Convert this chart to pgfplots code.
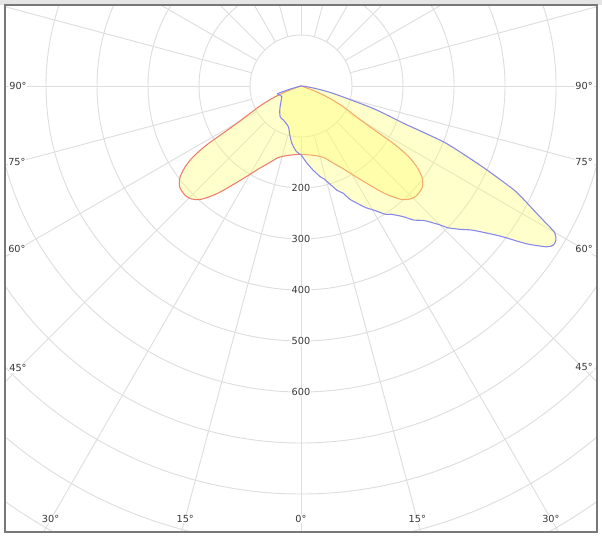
\documentclass[border=0pt]{standalone}
\usepackage{fontspec}
\setmainfont{DejaVu Sans}
\usepackage{pgfplots}
\pgfplotsset{compat=1.18}
\definecolor{gridc}{RGB}{222,222,222}
\definecolor{framec}{RGB}{120,120,120}
\definecolor{redc}{RGB}{238,125,105}
\definecolor{bluec}{RGB}{135,135,230}
\definecolor{fillc}{RGB}{255,255,110}
\definecolor{txt}{RGB}{55,55,55}
\tikzset{lbl/.style={font=\fontsize{7.3}{8.5}\selectfont, text=txt, fill=white, inner sep=0.6pt}}
\begin{document}
\begin{tikzpicture}
\useasboundingbox (-3.75pt,-5.25pt) rectangle (447.75pt,399pt);
\fill[black!10] (-3.75pt,395.25pt) rectangle (447.75pt,399pt);
\begin{axis}[at={(0pt,0pt)}, anchor=south west, scale only axis,
  x=0.3825pt, y=0.3825pt,
  xmin=-580.4, xmax=580.4, ymin=-874.5, ymax=158.8,
  xtick=\empty, ytick=\empty,
  axis line style={draw=framec, line width=1.1pt},
  clip=true, axis on top]
\pgfplotsinvokeforeach{100,200,300,400,500,600,700,800,900,1000}{
  \draw[gridc, line width=0.7pt] (axis cs:0,0) circle[radius=#1];}
\pgfplotsinvokeforeach{0,15,30,45,60,75,90,105,120,135,150,165,180,195,210,225,240,255,270,285,300,315,330,345}{
  \draw[gridc, line width=0.7pt] (axis cs:{100*cos(#1)},{100*sin(#1)}) -- (axis cs:{1200*cos(#1)},{1200*sin(#1)});}
% C0-C180
\addplot[draw=redc, line width=0.8pt, fill=fillc, fill opacity=0.35, data cs=polar, smooth, tension=0.5] coordinates {
(-165,0) (-162,8) (-160,25) (-158,48) (-156,68) (-154,90) (-152,110) (-150,142) (-149,170) (-148,218) (-146.7,253) (-145,278) (-143,297) (-141.5,305) (-140,310) (-138,312) (-136,312) (-134,308) (-131.5,297) (-128,268) (-124,230) (-120,200) (-117,182) (-113,165) (-110,154) (-107,146) (-100,138) (-90,134) (-80,138) (-73,146) (-70,154) (-67,165) (-63,182) (-60,200) (-56,230) (-52,268) (-48.5,297) (-46,308) (-44,312) (-42,312) (-40,310) (-38.5,305) (-37,297) (-35,278) (-33.3,253) (-32,218) (-31,170) (-30,142) (-28,110) (-26,90) (-24,68) (-22,48) (-20,25) (-18,8) (-15,0)
};
% C90-C270
\addplot[draw=bluec, line width=0.8pt, fill=fillc, fill opacity=0.35, data cs=polar, smooth, tension=0.4] coordinates {
(-166,0) (-164,20) (-162,48) (-158,46) (-154,44) (-151,43) (-144,48) (-135,58) (-130,65) (-124,73) (-118,75) (-114,77) (-107,84) (-103,98) (-99,114) (-94,129) (-90,135) (-86,150) (-82,166) (-78,182) (-76,188) (-71,216) (-68.5,226) (-66.5,243) (-62,270) (-60,280) (-56.5,302) (-55,307) (-52,325) (-50,343) (-47.5,358) (-45,385) (-44,400) (-42,420) (-40,440) (-37,489) (-35,539) (-33.2,576) (-32.2,585) (-31.2,584) (-30,574) (-28.7,534) (-27,490) (-26,464) (-24.3,400) (-23,353) (-21.4,300) (-20,215) (-18.5,175) (-17,140) (-13,65) (-10,30) (-6,8) (-3,0)
};
\node[lbl] at (axis cs:0,-200) {200};
\node[lbl] at (axis cs:0,-300) {300};
\node[lbl] at (axis cs:0,-400) {400};
\node[lbl] at (axis cs:0,-500) {500};
\node[lbl] at (axis cs:0,-600) {600};
\node[lbl] at (axis cs:-555,0) {90°};
\node[lbl] at (axis cs:-557,-149) {75°};
\node[lbl] at (axis cs:-557,-320) {60°};
\node[lbl] at (axis cs:-555,-553) {45°};
\node[lbl] at (axis cs:555,0) {90°};
\node[lbl] at (axis cs:555,-149) {75°};
\node[lbl] at (axis cs:555,-320) {60°};
\node[lbl] at (axis cs:555,-551) {45°};
\node[lbl] at (axis cs:-491,-849) {30°};
\node[lbl] at (axis cs:-227,-849) {15°};
\node[lbl] at (axis cs:0,-849) {0°};
\node[lbl] at (axis cs:228,-849) {15°};
\node[lbl] at (axis cs:490,-849) {30°};
\end{axis}
\end{tikzpicture}
\end{document}
